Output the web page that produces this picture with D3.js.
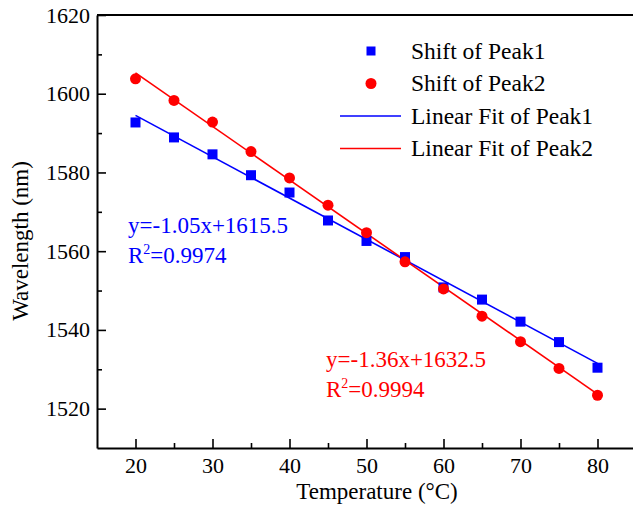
<!DOCTYPE html>
<html>
<head>
<meta charset="utf-8">
<script src="https://cdn.jsdelivr.net/npm/d3@7"></script>
<style>
  body { margin: 0; background: #fff; }
  svg text { font-family: "Times New Roman", Times, "Liberation Serif", "DejaVu Serif", serif; }
</style>
</head>
<body>
<div id="chart"></div>
<script>
// temperature steps (°C)
var temperature = [20, 25, 30, 35, 40, 45, 50, 55, 60, 65, 70, 75, 80];

// peak wavelengths (nm)
var peak1 = [1592.7, 1588.9, 1584.6, 1579.3, 1574.9, 1567.8, 1562.6, 1558.5, 1550.8, 1547.7, 1542.1, 1536.9, 1530.4];
var peak2 = [1603.8, 1598.3, 1592.8, 1585.3, 1578.6, 1571.7, 1564.7, 1557.3, 1550.4, 1543.5, 1537.0, 1530.2, 1523.4];

// linear fit results
var fitSlope = [-1.05, -1.36];
var fitIntercept = [1615.5, 1632.5];
var fitR2 = ['0.9974', '0.9994'];

var legendLabels = ['Shift of Peak1', 'Shift of Peak2', 'Linear Fit of Peak1', 'Linear Fit of Peak2'];

var xTicks = [20, 30, 40, 50, 60, 70, 80];
var yTicks = [1520, 1540, 1560, 1580, 1600, 1620];

let width = 633;
let height = 510;
var margin = { left: 97, top: 15, right: -3, bottom: 62 };

var blue = '#0000ff';
var red = '#ff0000';
var serif = '"Times New Roman", Times, "Liberation Serif", "DejaVu Serif", serif';

var svg = d3.select('#chart')
  .append('svg')
  .attr('width', width)
  .attr('height', height)
  .attr('font-family', serif);

var x = d3.scaleLinear().domain([15, 85]).range([margin.left, width - margin.right]);
var y = d3.scaleLinear().domain([1510, 1620]).range([height - margin.bottom, margin.top]);

var tickFont = 22;
var fontSize = 23;

/**
* AXES
*/
// minor ticks first, then the major ones with labels (ticks point inward)
svg.append('g')
  .attr('transform', 'translate(0,' + y.range()[0] + ')')
  .call(d3.axisTop(x).tickValues(d3.range(25, 85, 10)).tickSize(5).tickFormat(''))
  .call(function (g) { g.select('.domain').remove(); })
  .selectAll('line').attr('stroke', '#000').attr('stroke-width', 1.6);

var xAxis = svg.append('g')
  .attr('transform', 'translate(0,' + y.range()[0] + ')')
  .call(d3.axisBottom(x).tickValues(xTicks).tickFormat(d3.format('d'))
    .tickSizeInner(-9).tickSizeOuter(0).tickPadding(9))
  .attr('font-family', serif)
  .attr('font-size', tickFont);
xAxis.selectAll('line').attr('stroke', '#000').attr('stroke-width', 1.6);
xAxis.select('.domain').attr('stroke', '#000').attr('stroke-width', 2);
xAxis.selectAll('text').attr('fill', '#000');

svg.append('g')
  .attr('transform', 'translate(' + x.range()[0] + ',0)')
  .call(d3.axisRight(y).tickValues(d3.range(1530, 1620, 20)).tickSize(5).tickFormat(''))
  .call(function (g) { g.select('.domain').remove(); })
  .selectAll('line').attr('stroke', '#000').attr('stroke-width', 1.6);

var yAxis = svg.append('g')
  .attr('transform', 'translate(' + x.range()[0] + ',0)')
  .call(d3.axisLeft(y).tickValues(yTicks).tickFormat(d3.format('d'))
    .tickSizeInner(-9).tickSizeOuter(0).tickPadding(7))
  .attr('font-family', serif)
  .attr('font-size', tickFont);
yAxis.selectAll('line').attr('stroke', '#000').attr('stroke-width', 1.6);
yAxis.select('.domain').attr('stroke', '#000').attr('stroke-width', 2);
yAxis.selectAll('text').attr('fill', '#000');

// top frame line (right edge falls outside the window)
svg.append('line')
  .attr('x1', x.range()[0]).attr('x2', x.range()[1])
  .attr('y1', y.range()[1]).attr('y2', y.range()[1])
  .attr('stroke', '#000').attr('stroke-width', 2);

// axis titles
svg.append('text')
  .attr('x', 377)
  .attr('y', 499)
  .attr('text-anchor', 'middle')
  .attr('font-size', fontSize)
  .text('Temperature (°C)');

svg.append('text')
  .attr('transform', 'translate(28,241) rotate(-90)')
  .attr('text-anchor', 'middle')
  .attr('font-size', fontSize)
  .text('Wavelength (nm)');

/**
* FIT LINES
*/
var fitColors = [blue, red];
fitSlope.forEach(function (m, i) {
  var x0 = d3.min(temperature), x1 = d3.max(temperature);
  svg.append('line')
    .attr('x1', x(x0)).attr('y1', y(m * x0 + fitIntercept[i]))
    .attr('x2', x(x1)).attr('y2', y(m * x1 + fitIntercept[i]))
    .attr('stroke', fitColors[i])
    .attr('stroke-width', 1.6);
});

/**
* POINTS
*/
var sq = 10;
svg.append('g').selectAll('rect')
  .data(temperature)
  .enter().append('rect')
  .attr('x', function (d) { return x(d) - sq / 2; })
  .attr('y', function (d, i) { return y(peak1[i]) - sq / 2; })
  .attr('width', sq)
  .attr('height', sq)
  .attr('fill', blue);

svg.append('g').selectAll('circle')
  .data(temperature)
  .enter().append('circle')
  .attr('cx', function (d) { return x(d); })
  .attr('cy', function (d, i) { return y(peak2[i]); })
  .attr('r', 5.5)
  .attr('fill', red);

/**
* EQUATIONS
*/
function equation(i, px, py) {
  var g = svg.append('g').attr('fill', fitColors[i]).attr('font-size', fontSize);
  g.append('text')
    .attr('x', px).attr('y', py)
    .text('y=' + fitSlope[i].toFixed(2) + 'x+' + fitIntercept[i].toFixed(1));
  var t = g.append('text').attr('x', px).attr('y', py + 30);
  t.append('tspan').text('R');
  t.append('tspan').attr('font-size', 14).attr('dy', -9).text('2');
  t.append('tspan').attr('dy', 9).text('=' + fitR2[i]);
}
equation(0, 128, 233);
equation(1, 326, 367);

/**
* LEGEND
*/
var legend = svg.append('g').attr('font-size', 23.5);
var lx = 371, ly = 51, step = 32.5;

legend.append('rect')
  .attr('x', lx - 4.5).attr('y', ly - 4.5)
  .attr('width', 9).attr('height', 9)
  .attr('fill', blue);
legend.append('circle')
  .attr('cx', lx).attr('cy', ly + step)
  .attr('r', 5.5)
  .attr('fill', red);
[0, 1].forEach(function (i) {
  legend.append('line')
    .attr('x1', 340).attr('x2', 401)
    .attr('y1', ly + step * (2 + i)).attr('y2', ly + step * (2 + i))
    .attr('stroke', fitColors[i])
    .attr('stroke-width', 1.6);
});

legend.selectAll('text.lab')
  .data(legendLabels)
  .enter().append('text')
  .attr('class', 'lab')
  .attr('x', 411)
  .attr('y', function (d, i) { return ly + step * i + 7.5; })
  .text(function (d) { return d; });
</script>
</body>
</html>
